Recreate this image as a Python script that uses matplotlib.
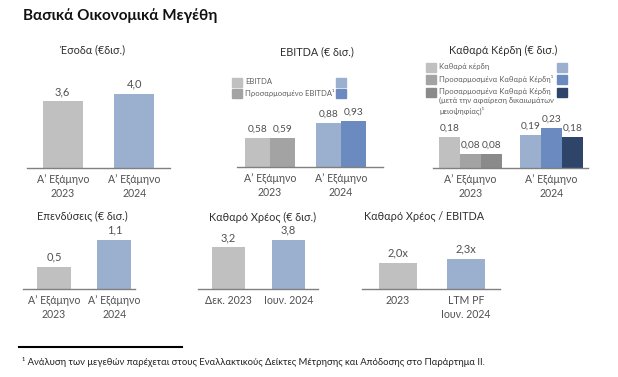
import matplotlib
matplotlib.use("Agg")
import matplotlib.pyplot as plt
from matplotlib.patches import Rectangle
from matplotlib.lines import Line2D

plt.rcParams["font.family"] = ["Lato", "DejaVu Sans"]

W, H = 618, 377

# data
rev_labels = ["Α’ Εξάμηνο\n2023", "Α’ Εξάμηνο\n2024"]
rev_values = [3.6, 4.0]

ebitda_labels = ["Α’ Εξάμηνο\n2023", "Α’ Εξάμηνο\n2024"]
ebitda_series = ["EBITDA", "Προσαρμοσμένο EBITDA¹"]
ebitda_values = [[0.58, 0.88], [0.59, 0.93]]

np_labels = ["Α’ Εξάμηνο\n2023", "Α’ Εξάμηνο\n2024"]
np_series = ["Καθαρά κέρδη", "Προσαρμοσμένα Καθαρά Κέρδη¹",
             "Προσαρμοσμένα Καθαρά Κέρδη\n(μετά την αφαίρεση δικαιωμάτων\nμειοψηφίας)¹"]
np_values = [[0.18, 0.19], [0.08, 0.23], [0.08, 0.18]]

capex_labels = ["Α’ Εξάμηνο\n2023", "Α’ Εξάμηνο\n2024"]
capex_values = [0.5, 1.1]

debt_labels = ["Δεκ. 2023", "Ιουν. 2024"]
debt_values = [3.2, 3.8]

lev_labels = ["2023", "LTM PF\nΙουν. 2024"]
lev_values = [2.0, 2.3]

grey_shades = ["#c0c0c0", "#a3a3a3", "#8a8a8a"]
blue_shades = ["#9bafcf", "#6b8bc0", "#2e4569"]
TXT = "#505050"


def fig_box(x0, x1, ytop, ybot):
    return [x0 / W, 1 - ybot / H, (x1 - x0) / W, (ybot - ytop) / H]


def base_axes(fig, box, xlim, ymax, labels):
    ax = fig.add_axes(fig_box(*box))
    ax.set_xlim(*xlim)
    ax.set_ylim(0, ymax)
    for s in ["top", "right", "left"]:
        ax.spines[s].set_visible(False)
    ax.spines["bottom"].set_color("#808080")
    ax.spines["bottom"].set_linewidth(1.0)
    ax.set_yticks([])
    ax.set_xticks(range(len(labels)))
    ax.set_xticklabels(labels, fontsize=7.6, color=TXT, linespacing=1.35)
    ax.tick_params(axis="x", length=0, pad=4)
    ax.patch.set_alpha(0)
    return ax


def simple_panel(fig, box, xlim, ymax, labels, values, width, fmt):
    ax = base_axes(fig, box, xlim, ymax, labels)
    colors = [grey_shades[0], blue_shades[0]]
    bars = ax.bar(range(len(values)), values, width=width, color=colors)
    ax.bar_label(bars, labels=[fmt(v) for v in values], padding=3,
                 fontsize=8, color=TXT)
    return ax


def grouped_panel(fig, box, xlim, ymax, labels, series_vals, width, fmt):
    ax = base_axes(fig, box, xlim, ymax, labels)
    n = len(series_vals)
    for i, vals in enumerate(series_vals):
        off = (i - (n - 1) / 2) * width
        for j, v in enumerate(vals):
            col = grey_shades[i] if j == 0 else blue_shades[i]
            b = ax.bar(j + off, v, width=width, color=col)
            ax.bar_label(b, labels=[fmt(v)], padding=3, fontsize=7.3, color=TXT)
    return ax


def gr(v, d=1):
    return f"{v:.{d}f}".replace(".", ",")


fig = plt.figure(figsize=(W / 100, H / 100), dpi=100)

fig.text(23 / W, 1 - 16 / H, "Βασικά Οικονομικά Μεγέθη", fontsize=11,
         fontweight="bold", color="#111111", va="center", ha="left")

def ptitle(x, y, s):
    fig.text(x / W, 1 - y / H, s, fontsize=7.8, color="#303030",
             ha="center", va="center")

ptitle(93, 50, "Έσοδα (€δισ.)")
ptitle(317, 52, "EBITDA (€ δισ.)")
ptitle(503, 50, "Καθαρά Κέρδη (€ δισ.)")
ptitle(82, 217, "Επενδύσεις (€ δισ.)")
ptitle(263, 217, "Καθαρό Χρέος (€ δισ.)")
ptitle(424, 217, "Καθαρό Χρέος / EBITDA")

simple_panel(fig, (27, 170, 60, 168), (-0.5, 1.5), 5.84, rev_labels,
             rev_values, 0.56, lambda v: gr(v))
grouped_panel(fig, (237, 383, 60, 167), (-0.46, 1.59), 2.14, ebitda_labels,
              ebitda_values, 0.35, lambda v: gr(v, 2))
grouped_panel(fig, (433, 588, 60, 168), (-0.46, 1.45), 0.624, np_labels,
              np_values, 0.26, lambda v: gr(v, 2))
simple_panel(fig, (23, 135, 220, 289), (-0.51, 1.34), 1.55, capex_labels,
             capex_values, 0.56, lambda v: gr(v))
simple_panel(fig, (198, 318, 220, 289), (-0.51, 1.49), 5.3, debt_labels,
             debt_values, 0.55, lambda v: gr(v))
simple_panel(fig, (362, 500, 220, 289), (-0.53, 1.5), 5.3, lev_labels,
             lev_values, 0.56, lambda v: gr(v) + "x")


def legend_rows(x_sq, x_sq_r, ys, names, sw=10, sh=9):
    for i, (y, name) in enumerate(zip(ys, names)):
        for xx, col in [(x_sq, grey_shades[i]), (x_sq_r, blue_shades[i])]:
            fig.add_artist(Rectangle((xx / W, 1 - (y + sh / 2) / H), sw / W, sh / H,
                                     color=col, transform=fig.transFigure))
        fig.text((x_sq + sw + 3) / W, 1 - (y - 4) / H, name, fontsize=5.5,
                 color="#606060", ha="left", va="top", linespacing=1.3)

legend_rows(232, 336, [82, 93], ebitda_series)
legend_rows(426, 557, [67, 79, 92], np_series)

fig.add_artist(Line2D([19 / W, 182 / W], [1 - 347 / H, 1 - 347 / H],
                      color="black", linewidth=1.5, transform=fig.transFigure))
fig.text(22 / W, 1 - 362 / H,
         "¹ Ανάλυση των μεγεθών παρέχεται στους Εναλλακτικούς Δείκτες Μέτρησης και Απόδοσης στο Παράρτημα ΙΙ.",
         fontsize=6.8, color="#222222", ha="left", va="center")

fig.savefig("out.png", dpi=100)
